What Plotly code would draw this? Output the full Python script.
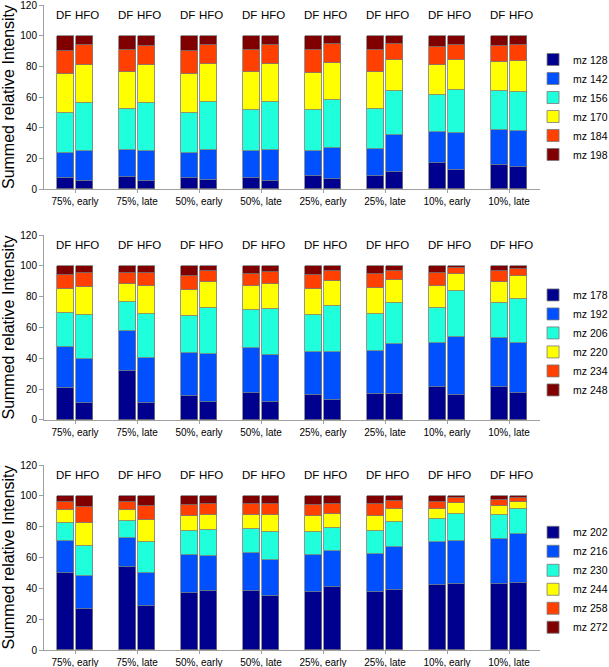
import plotly.graph_objects as go

groups = ["75%, early", "75%, late", "50%, early", "50%, late",
          "25%, early", "25%, late", "10%, early", "10%, late"]
bar_names = ["DF", "HFO"]

# Segment values (bottom to top), for each group: [DF, HFO] interleaved
# Panel 1
p1_labels = ["mz 128", "mz 142", "mz 156", "mz 170", "mz 184", "mz 198"]
p1_df = [
    [6.9, 7.8, 6.9, 6.9, 8.4, 8.7, 16.9, 15.8],
    [16.3, 17.5, 16.3, 17.6, 16.5, 17.3, 20.5, 22.7],
    [26.6, 27.1, 26.6, 27.2, 26.4, 25.9, 23.9, 25.6],
    [25.1, 23.8, 25.1, 24.3, 24.2, 24.3, 19.7, 18.6],
    [15.4, 14.7, 15.4, 14.7, 15.2, 14.7, 11.9, 10.8],
    [9.7, 9.1, 9.7, 9.3, 9.3, 9.1, 7.1, 6.5],
]
p1_hfo = [
    [5.2, 5.2, 5.6, 5.2, 6.5, 11.0, 12.1, 14.3],
    [19.9, 19.5, 19.9, 20.1, 20.3, 24.1, 24.5, 23.4],
    [30.7, 31.4, 31.4, 31.2, 31.0, 29.0, 28.1, 25.3],
    [24.9, 24.6, 24.7, 24.9, 24.2, 20.3, 19.3, 20.3],
    [13.0, 12.8, 12.6, 12.5, 12.4, 10.4, 10.2, 10.9],
    [6.3, 6.5, 5.8, 6.1, 5.6, 5.2, 5.8, 5.8],
]
# Panel 2
p2_labels = ["mz 178", "mz 192", "mz 206", "mz 220", "mz 234", "mz 248"]
p2_df = [
    [21.0, 31.8, 15.8, 17.3, 16.2, 16.9, 21.4, 21.6],
    [26.4, 25.8, 27.7, 29.7, 27.7, 27.9, 28.8, 31.6],
    [22.1, 18.8, 24.2, 24.2, 24.3, 24.2, 22.3, 22.6],
    [15.3, 11.7, 16.7, 15.6, 16.6, 16.3, 14.5, 13.8],
    [9.1, 7.1, 9.3, 8.2, 9.4, 9.1, 8.5, 6.9],
    [6.1, 4.8, 6.3, 5.0, 5.8, 5.6, 4.5, 3.5],
]
p2_hfo = [
    [11.0, 11.0, 11.7, 11.5, 12.8, 16.7, 16.2, 17.5],
    [28.6, 29.3, 31.2, 30.5, 31.6, 32.4, 37.7, 32.7],
    [28.6, 28.7, 30.0, 29.9, 29.8, 26.9, 29.6, 28.4],
    [17.9, 18.0, 16.5, 16.6, 16.1, 14.7, 11.5, 14.5],
    [9.4, 8.5, 7.1, 7.6, 6.5, 6.1, 3.5, 4.9],
    [4.5, 4.5, 3.5, 3.9, 3.2, 3.2, 1.5, 2.0],
]
# Panel 3
p3_labels = ["mz 202", "mz 216", "mz 230", "mz 244", "mz 258", "mz 272"]
p3_df = [
    [49.7, 54.0, 37.1, 38.4, 37.3, 37.5, 42.3, 42.9],
    [20.8, 18.7, 24.5, 24.5, 24.3, 24.5, 27.5, 28.9],
    [11.9, 10.8, 15.6, 15.4, 15.2, 15.2, 15.2, 15.8],
    [8.3, 7.2, 10.0, 9.3, 10.2, 10.0, 6.5, 6.1],
    [5.4, 5.2, 6.9, 6.8, 7.1, 7.2, 4.6, 3.3],
    [3.9, 4.1, 5.9, 5.6, 5.9, 5.6, 3.9, 3.0],
]
p3_hfo = [
    [26.9, 28.4, 38.0, 34.7, 41.0, 38.8, 42.9, 43.6],
    [21.0, 21.7, 23.2, 23.7, 23.0, 27.8, 28.0, 31.7],
    [19.6, 20.0, 16.5, 18.2, 15.4, 16.5, 17.1, 16.0],
    [14.7, 14.5, 9.9, 11.0, 9.1, 8.4, 7.4, 5.0],
    [10.6, 9.1, 6.8, 7.2, 6.5, 5.0, 2.9, 2.4],
    [7.2, 6.3, 5.6, 5.2, 5.0, 3.5, 1.7, 1.3],
]

colors = ["#00008f", "#0050ff", "#20ffdc", "#ffff00", "#ff4000", "#800000"]

panels = [(p1_labels, p1_df, p1_hfo), (p2_labels, p2_df, p2_hfo), (p3_labels, p3_df, p3_hfo)]
domains = [[0.7147, 1.0], [0.3566, 0.6434], [0.0, 0.2868]]
legend_y = [0.938, 0.573, 0.205]

off = 0.16
bw = 0.275
xs = []
for i in range(len(groups)):
    xs += [i - off, i + off]

fig = go.Figure()
for p, (labels, dfv, hfov) in enumerate(panels):
    xa = "x" if p == 0 else f"x{p+1}"
    ya = "y" if p == 0 else f"y{p+1}"
    lg = "legend" if p == 0 else f"legend{p+1}"
    for s in range(6):
        vals = []
        for i in range(len(groups)):
            vals += [dfv[s][i], hfov[s][i]]
        fig.add_trace(go.Bar(
            x=xs, y=vals, width=bw, name=labels[s],
            marker=dict(color=colors[s], line=dict(color="#7a7a7a", width=0.8)),
            xaxis=xa, yaxis=ya, legend=lg, showlegend=True,
        ))
    for i in range(len(groups)):
        for b, nm in enumerate(bar_names):
            fig.add_annotation(x=i + (0.19 if b else -0.18), y=113.5, text=nm,
                               xref=xa, yref=ya, showarrow=False,
                               font=dict(size=11.5, color="black", family="Liberation Sans"))

axis_common = dict(showline=True, linecolor="#a0a0a0", linewidth=1, ticks="outside",
                   tickcolor="#a0a0a0", ticklen=4, showgrid=False, zeroline=False,
                   ticklabeloverflow="allow",
                   tickfont=dict(size=10, color="black", family="Liberation Sans"))

layout = dict(
    barmode="stack", width=609, height=667, plot_bgcolor="white", paper_bgcolor="white",
    margin=dict(l=44, r=69, t=5, b=17, autoexpand=False), bargap=0,
    font=dict(family="Liberation Sans", color="black"),
)
for p in range(3):
    xk = "xaxis" if p == 0 else f"xaxis{p+1}"
    yk = "yaxis" if p == 0 else f"yaxis{p+1}"
    lk = "legend" if p == 0 else f"legend{p+1}"
    ya = "y" if p == 0 else f"y{p+1}"
    xa = "x" if p == 0 else f"x{p+1}"
    layout[xk] = dict(axis_common, range=[-0.5, 7.5], tickvals=list(range(len(groups))),
                      ticktext=groups, anchor=ya, domain=[0, 1], ticklen=3)
    layout[yk] = dict(axis_common, range=[0, 120], tickvals=[0, 20, 40, 60, 80, 100, 120],
                      anchor=xa, domain=domains[p],
                      title=dict(text="Summed relative Intensity", standoff=5,
                                 font=dict(size=16, color="black", family="Liberation Sans")))
    layout[lk] = dict(x=0.986, y=legend_y[p], xanchor="left", yanchor="top",
                      traceorder="normal", bgcolor="rgba(0,0,0,0)",
                      font=dict(size=10.5, color="black", family="Liberation Sans"),
                      tracegroupgap=0, itemwidth=30)

fig.update_layout(**layout)
fig.write_html("out.html", config={"displayModeBar": False},
               post_script="document.body.style.margin='0';document.body.style.padding='0';")
